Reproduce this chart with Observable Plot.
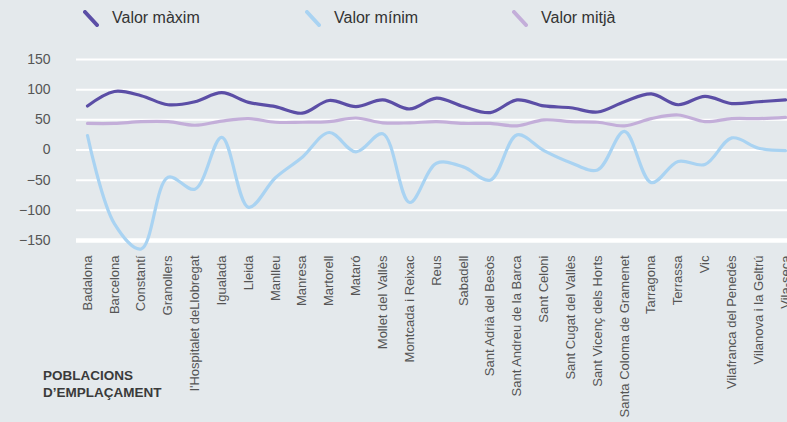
<!DOCTYPE html>
<html>
<head>
<meta charset="utf-8">
<script src="https://cdn.jsdelivr.net/npm/d3@7"></script>
<script src="https://cdn.jsdelivr.net/npm/@observablehq/plot@0.6"></script>
<style>
  html, body { margin: 0; padding: 0; background: #e4e9ec; }
  body { width: 787px; height: 422px; overflow: hidden; position: relative; font-family: "Liberation Sans", Arial, sans-serif; }
  #legend { position: absolute; left: 0; top: 0; width: 787px; height: 40px; }
  .item { position: absolute; top: 9px; font-size: 16px; color: #333; display: flex; align-items: center; }
  .item svg { margin-right: 13px; }
  #chart { position: absolute; left: 0; top: 40px; }
  #xtitle { position: absolute; left: 43px; top: 367px; font-size: 13.5px; font-weight: bold; color: #3a3a3a; line-height: 17px; }
</style>
</head>
<body>
<div id="legend"></div>
<div id="chart"></div>
<div id="xtitle">POBLACIONS<br>D’EMPLAÇAMENT</div>
<script>
const categories = [
  "Badalona", "Barcelona", "Constantí", "Granollers", "l'Hospitalet deLlobregat",
  "Igualada", "Lleida", "Manlleu", "Manresa", "Martorell", "Mataró",
  "Mollet del Vallès", "Montcada i Reixac", "Reus", "Sabadell",
  "Sant Adrià del Besòs", "Sant Andreu de la Barca", "Sant Celoni",
  "Sant Cugat del Vallès", "Sant Vicenç dels Horts", "Santa Coloma de Gramenet",
  "Tarragona", "Terrassa", "Vic", "Vilafranca del Penedès",
  "Vilanova i la Geltrú", "Vila-seca"
];
const valorMaxim = [73, 97, 90, 75, 80, 95, 79, 72, 61, 82, 72, 83, 68, 86, 72, 62, 83, 73, 70, 63, 80, 93, 75, 89, 77, 80, 83];
const valorMinim = [24, -122, -164, -45, -65, 21, -95, -46, -12, 29, -3, 27, -87, -22, -28, -50, 25, -1, -21, -33, 31, -54, -19, -24, 20, 3, -1];
const valorMitja = [44, 44, 47, 47, 41, 48, 52, 46, 46, 47, 53, 45, 45, 47, 44, 44, 40, 50, 47, 46, 40, 52, 58, 47, 52, 52, 54];
const yTicks = [150, 100, 50, 0, -50, -100, -150];

const series = [
  {key: "Valor màxim", values: valorMaxim, color: "#5b4ea6"},
  {key: "Valor mínim", values: valorMinim, color: "#a9d3f2"},
  {key: "Valor mitjà", values: valorMitja, color: "#c3aed9"}
];

const legendLefts = [83, 305, 512];
const legend = document.getElementById("legend");
series.forEach((s, i) => {
  const d = document.createElement("div");
  d.className = "item";
  d.style.left = legendLefts[i] + "px";
  d.innerHTML = `<svg width="16" height="17"><line x1="2" y1="2" x2="14" y2="15" stroke="${s.color}" stroke-width="4" stroke-linecap="round"/></svg><span>${s.key}</span>`;
  legend.appendChild(d);
});

const rows = [];
series.forEach(s => s.values.forEach((v, i) => rows.push({city: categories[i], value: v, serie: s.key})));

const chart = Plot.plot({
  width: 787,
  height: 382,
  marginLeft: 87,
  marginRight: 2,
  marginTop: 19,
  marginBottom: 182,
  style: {background: "transparent", fontFamily: "Liberation Sans, Arial, sans-serif"},
  x: {type: "point", domain: categories, padding: 0, round: false, label: null},
  y: {domain: [-150, 150], ticks: yTicks, label: null},
  color: {domain: series.map(s => s.key), range: series.map(s => s.color)},
  marks: [
    Plot.ruleY(yTicks.filter(t => t !== -150), {stroke: "#ffffff", strokeWidth: 2, insetLeft: -11, insetRight: -2}),
    Plot.ruleY([-150], {stroke: "#ffffff", strokeWidth: 4.5, insetLeft: -11, insetRight: -2}),
    Plot.axisY({ticks: yTicks, tickSize: 0, tickPadding: 37, fontSize: 14, color: "#555", label: null}),
    Plot.axisX({tickSize: 0, tickPadding: 15, tickRotate: -90, fontSize: 13, color: "#555", label: null}),
    Plot.line(rows, {x: "city", y: "value", z: "serie", stroke: "serie", strokeWidth: 3.2, curve: "catmull-rom", clip: false})
  ]
});
document.getElementById("chart").appendChild(chart);
</script>
</body>
</html>
